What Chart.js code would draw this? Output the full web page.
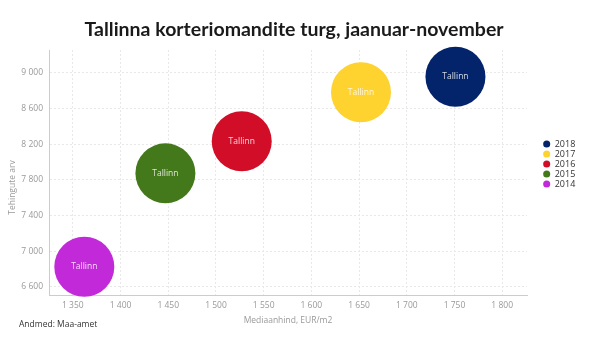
<!DOCTYPE html>
<html><head><meta charset="utf-8">
<script src="https://cdn.jsdelivr.net/npm/chart.js@4.4.1/dist/chart.umd.min.js"></script>
<style>html,body{margin:0;padding:0;background:#fff}canvas{display:block}</style>
</head><body>
<canvas id="c" width="600" height="344"></canvas>
<script>
// ---- data ----
const years = ['2014', '2015', '2016', '2017', '2018'];
const cityLabel = 'Tallinn';
const medianPrice = [1362, 1447, 1527, 1652, 1751];   // EUR/m2
const transactions = [6824, 7873, 8233, 8783, 8958];  // Tehingute arv
const xTicks = [1350, 1400, 1450, 1500, 1550, 1600, 1650, 1700, 1750, 1800];
const yTicks = [6600, 7000, 7400, 7800, 8200, 8600, 9000];
const colors = ['#c22ad9', '#43791a', '#d10d28', '#fed22f', '#03246a'];
const titleText = 'Tallinna korteriomandite turg, jaanuar-november';
const xTitle = 'Mediaanhind, EUR/m2';
const yTitle = 'Tehingute arv';
const sourceText = 'Andmed: Maa-amet';

const FONT = '"Open Sans", "DejaVu Sans", sans-serif';
const TITLE_FONT = 'Lato, "Open Sans", sans-serif';
const fmt = v => String(v).replace(/\B(?=(\d{3})+(?!\d))/g, ' ');

// legend sizing
const LEG_FS = 9, LEG_PAD = 1, LEG_BOXW = 7;
const mctx = document.createElement('canvas').getContext('2d');
mctx.font = LEG_FS + 'px ' + FONT;
const legTextW = Math.max(...years.map(y => mctx.measureText(y).width));
const legendWidth = LEG_PAD + LEG_BOXW + LEG_FS / 2 + legTextW + 10;
const AREA_LEFT = 49, AREA_RIGHT = 527, AREA_BOTTOM = 295, PAD_L = 18, PAD_B = 16;
const padRight = 600 - AREA_RIGHT - legendWidth;

const datasets = years.map((yr, i) => ({
  label: yr,
  data: [{x: medianPrice[i], y: transactions[i]}],
  backgroundColor: colors[i],
  borderWidth: 0,
  radius: 30,
  hoverRadius: 0,
  clip: false
}));

const extras = {
  id: 'extras',
  afterLayout(chart) {
    const lg = chart.legend;
    const dx = 542.2 - lg.left;
    lg.left += dx; lg.right += dx;
  },
  afterDatasetsDraw(chart) {
    const ctx = chart.ctx;
    ctx.save();
    ctx.font = '8.5px ' + FONT;
    ctx.fillStyle = 'rgba(255,255,255,0.82)';
    ctx.textAlign = 'center';
    ctx.textBaseline = 'middle';
    chart.data.datasets.forEach((ds, i) => {
      chart.getDatasetMeta(i).data.forEach(el => ctx.fillText(cityLabel, el.x, el.y));
    });
    ctx.restore();
  },
  afterDraw(chart) {
    const ctx = chart.ctx;
    ctx.save();
    ctx.font = '8.5px ' + FONT;
    ctx.fillStyle = '#999';
    ctx.textAlign = 'center';
    ctx.textBaseline = 'middle';
    ctx.translate(13, 187.5);
    ctx.rotate(-Math.PI / 2);
    ctx.fillText(yTitle, 0, 0);
    ctx.restore();
    ctx.save();
    ctx.font = '8.5px ' + FONT;
    ctx.fillStyle = '#333';
    ctx.textAlign = 'left';
    ctx.textBaseline = 'middle';
    ctx.fillText(sourceText, 19, 325);
    ctx.restore();
  }
};

new Chart(document.getElementById('c'), {
  type: 'bubble',
  data: {datasets},
  plugins: [extras],
  options: {
    responsive: false,
    devicePixelRatio: 1,
    animation: false,
    events: [],
    layout: {padding: {left: PAD_L, right: padRight, top: 0, bottom: PAD_B}},
    plugins: {
      tooltip: {enabled: false},
      title: {
        display: true,
        text: titleText,
        color: '#1a1a1a',
        font: {family: TITLE_FONT, size: 19.5, weight: 'bold', lineHeight: 1.2},
        padding: {top: 18.5, bottom: 8.1}
      },
      legend: {
        position: 'right',
        reverse: true,
        labels: {
          usePointStyle: true,
          pointStyle: 'circle',
          boxWidth: LEG_BOXW,
          boxHeight: 5,
          padding: LEG_PAD,
          color: '#333',
          font: {family: FONT, size: LEG_FS}
        }
      }
    },
    scales: {
      x: {
        type: 'linear',
        min: 1325,
        max: 1826,
        afterBuildTicks: s => { s.ticks = xTicks.map(v => ({value: v})); },
        afterFit: s => { s.height = 344 - PAD_B - AREA_BOTTOM; },
        ticks: {callback: v => fmt(v), color: '#999', font: {family: FONT, size: 8.5}, padding: 5.5, maxRotation: 0, autoSkip: false},
        grid: {color: '#e8e8e8', drawTicks: false},
        border: {display: true, color: '#ccc', width: 1, dash: [2, 2]},
        title: {display: true, text: xTitle, color: '#999', font: {family: FONT, size: 8.5, lineHeight: 1.2}, padding: {top: 0, bottom: 2.4}}
      },
      y: {
        type: 'linear',
        min: 6507,
        max: 9258,
        afterBuildTicks: s => { s.ticks = yTicks.map(v => ({value: v})); },
        afterFit: s => { s.width = AREA_LEFT - PAD_L; },
        ticks: {callback: v => fmt(v), color: '#999', font: {family: FONT, size: 8.5}, padding: 6, autoSkip: false},
        grid: {color: '#e8e8e8', drawTicks: false},
        border: {display: true, color: '#ccc', width: 1, dash: [2, 2]}
      }
    }
  }
});
</script>
</body></html>
